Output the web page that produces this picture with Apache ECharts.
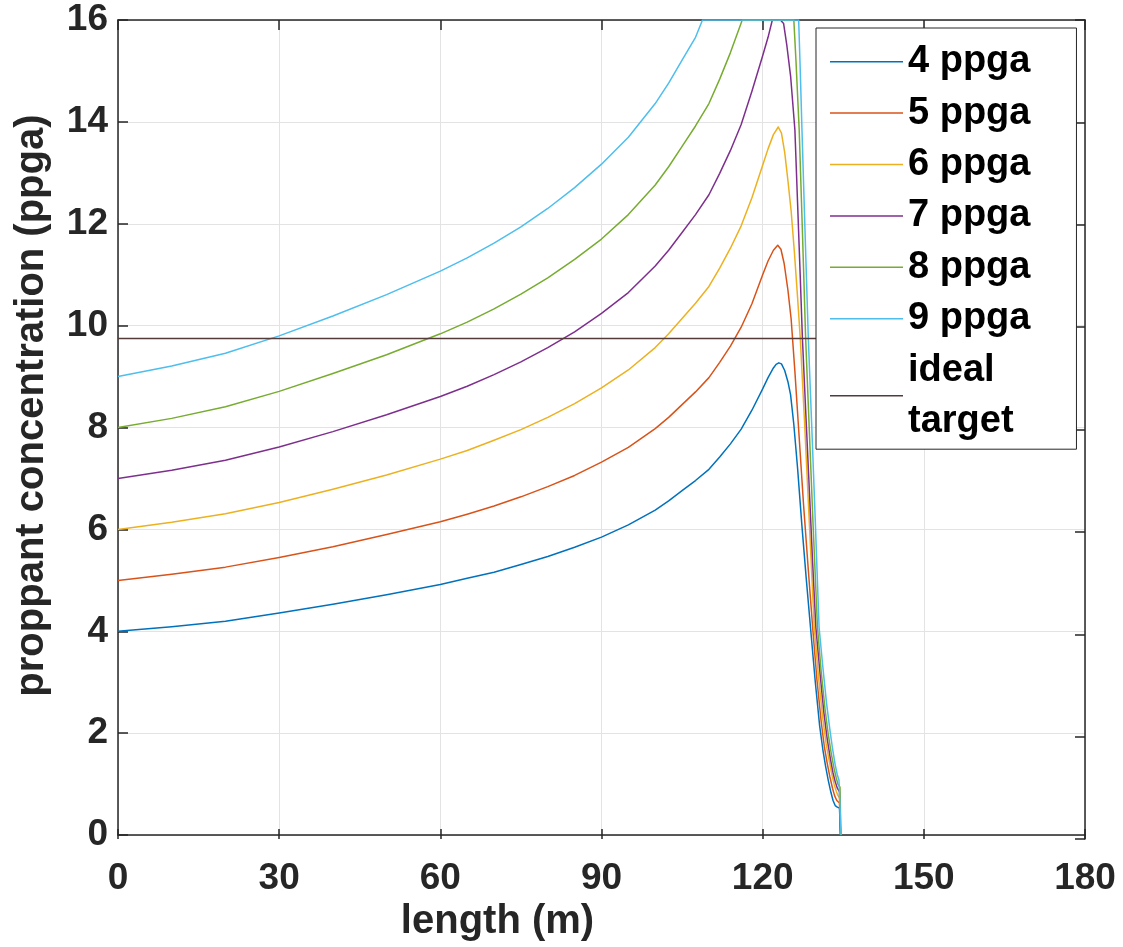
<!DOCTYPE html>
<html>
<head>
<meta charset="utf-8">
<script src="https://cdn.jsdelivr.net/npm/echarts@6/dist/echarts.min.js"></script>
<style>
html,body{margin:0;padding:0;background:#fff;}
#chart{width:1123px;height:947px;}
</style>
</head>
<body>
<div id="chart"></div>
<script>
// ---- data ----
const seriesNames = ['4 ppga','5 ppga','6 ppga','7 ppga','8 ppga','9 ppga','ideal target'];
const xTicks = [0,30,60,90,120,150,180];
const yTicks = [0,2,4,6,8,10,12,14,16];

const len4 = [0,10,20,30,40,50,60,65,70,75,80,85,90,95,100,102.5,105,107.5,110,112,114,116,118,120,121,122,122.5,123,123.5,124.1,124.7,125.2,125.8,126.5,127.3,128.1,128.9,129.8,130.6,131.2,131.7,132.2,132.7,133.1,133.5,133.9,134.3,134.5];
const conc4 = [4.00,4.09,4.20,4.36,4.53,4.72,4.92,5.04,5.16,5.31,5.47,5.65,5.85,6.09,6.38,6.56,6.76,6.96,7.18,7.42,7.68,7.97,8.34,8.76,8.98,9.17,9.24,9.27,9.25,9.12,8.90,8.64,8.06,7.20,6.08,5.05,4.08,3.00,2.15,1.68,1.36,1.08,0.84,0.68,0.58,0.55,0.53,0];

const len5 = [0,10,20,30,40,50,60,65,70,75,80,85,90,95,100,102.5,105,107.5,110,112,114,116,118,120,121,122,122.8,123.4,124.0,124.7,125.3,126.0,126.8,127.6,128.5,129.3,130.1,130.9,131.5,132.0,132.5,133.0,133.4,133.8,134.3,134.5];
const conc5 = [5.00,5.12,5.26,5.45,5.66,5.90,6.15,6.30,6.46,6.64,6.84,7.06,7.32,7.61,7.98,8.20,8.45,8.70,8.98,9.28,9.60,9.97,10.43,11.00,11.27,11.48,11.58,11.50,11.22,10.70,10.13,9.10,7.80,6.50,5.20,4.08,3.05,2.22,1.72,1.42,1.15,0.92,0.77,0.68,0.63,0];

const len6 = [0,10,20,30,40,50,60,65,70,75,80,85,90,95,100,102.5,105,107.5,110,112,114,116,118,120,121,122,122.9,123.5,124.1,124.7,125.3,125.9,126.5,127.0,127.8,128.7,129.6,130.4,131.2,131.8,132.4,132.9,133.3,133.7,134.0,134.3,134.5];
const conc6 = [6.00,6.14,6.31,6.53,6.79,7.07,7.38,7.55,7.75,7.96,8.20,8.47,8.78,9.13,9.57,9.84,10.14,10.44,10.77,11.13,11.52,11.96,12.51,13.15,13.47,13.75,13.90,13.78,13.40,12.85,12.25,11.45,10.55,9.75,8.10,6.10,4.08,3.10,2.28,1.80,1.45,1.18,1.00,0.86,0.78,0.73,0];

const len7 = [0,10,20,30,40,50,60,65,70,75,80,85,90,95,100,102.5,105,107.5,110,112,114,116,118,120,121,121.8,123.3,123.9,124.5,125.2,126.0,126.5,127.0,127.4,128.0,128.7,129.3,129.9,130.7,131.4,132.0,132.6,133.1,133.5,133.9,134.3,134.5];
const conc7 = [7.00,7.16,7.36,7.62,7.92,8.25,8.61,8.81,9.04,9.29,9.57,9.88,10.24,10.65,11.17,11.48,11.83,12.18,12.57,12.99,13.44,13.95,14.60,15.30,15.66,16,16,15.93,15.50,14.90,13.84,12.40,10.95,9.75,8.35,6.75,5.35,4.08,3.15,2.40,1.90,1.50,1.22,1.05,0.92,0.85,0];

const len8 = [0,10,20,30,40,50,60,65,70,75,80,85,90,95,100,102.5,105,107.5,110,112,114,116.2,125.8,126.2,126.8,127.4,128.0,128.7,129.4,130.2,130.9,131.6,132.2,132.8,133.3,133.7,134.0,134.4,134.55];
const conc8 = [8.00,8.18,8.41,8.71,9.06,9.43,9.84,10.07,10.33,10.62,10.94,11.30,11.70,12.18,12.76,13.12,13.52,13.92,14.36,14.84,15.36,16,16,15.20,13.84,11.85,9.75,7.90,6.05,4.08,3.20,2.48,1.98,1.58,1.30,1.12,1.00,0.94,0];

const len9 = [0,10,20,30,40,50,60,65,70,75,80,85,90,95,100,102.5,105,107.5,108.8,126.7,127.0,127.3,127.9,128.5,129.2,129.8,130.5,131.2,131.9,132.5,133.0,133.5,133.9,134.2,134.5,134.6];
const conc9 = [9.00,9.21,9.46,9.80,10.19,10.61,11.07,11.33,11.62,11.94,12.30,12.71,13.17,13.70,14.36,14.76,15.21,15.66,16,16,15.00,13.90,11.80,9.75,7.85,6.15,4.08,3.30,2.58,2.08,1.70,1.38,1.18,1.08,1.05,0];

const lenTarget = [0,130];
const concTarget = [9.75,9.75];

const colors = ['#0072BD','#D95319','#EDB120','#7E2F8E','#77AC30','#4DBEEE','#553a3a'];

// ---- build ----
function pairs(xs, ys){ return xs.map((x,i)=>[x, ys[i]]); }
const allX = [len4,len5,len6,len7,len8,len9,lenTarget];
const allY = [conc4,conc5,conc6,conc7,conc8,conc9,concTarget];

const FONT = '"Liberation Sans", Arial, Helvetica, sans-serif';
const axisCol = '#262626';

const series = seriesNames.map((n,i)=>({
  name: n,
  type: 'line',
  xAxisIndex: 0, yAxisIndex: 0,
  data: pairs(allX[i], allY[i]),
  symbol: 'none',
  showSymbol: false,
  smooth: false,
  clip: true,
  lineStyle: {color: colors[i], width: 1.5, join: 'round'},
  itemStyle: {color: colors[i]},
  emphasis: {disabled: true},
  z: 2
}));

const GL = 118, GR = 38, GT = 20, GB = 108;
const plotW = 1123 - GL - GR, plotH = 947 - GT - GB;
const tickOn = {show: true, inside: false, length: 10, lineStyle: {color: axisCol, width: 1.5}};
const lineOn = {show: true, onZero: false, lineStyle: {color: axisCol, width: 1.5}};
const lineOff = {show: false, onZero: false};
const noLabel = {show: false};
const noSplit = {show: false};

const chart = echarts.init(document.getElementById('chart'), null, {renderer:'canvas'});
chart.setOption({
  animation: false,
  backgroundColor: '#ffffff',
  color: colors,
  grid: [
    {left: GL, right: GR, top: GT, bottom: GB, containLabel: false},
    {left: GL, right: GR, top: GT, bottom: GB, containLabel: false}
  ],
  xAxis: [{
    gridIndex: 0, type: 'value', min: 0, max: 180, interval: 30, position: 'bottom',
    name: 'length (m)', nameLocation: 'middle', nameGap: 64,
    nameTextStyle: {fontFamily: FONT, fontWeight: 'bold', fontSize: 40, color: axisCol, padding: [0, 208, 0, 0]},
    axisLine: lineOn,
    axisTick: {show: false},
    axisLabel: {fontFamily: FONT, fontWeight: 'bold', fontSize: 37, color: axisCol, margin: 25,
      formatter: v => xTicks.includes(v) ? String(v) : ''},
    splitLine: {show: true, lineStyle: {color: '#e3e3e3', width: 1}}
  },{
    // ticks along the bottom edge, pointing up into the plot
    gridIndex: 0, type: 'value', min: 0, max: 180, interval: 30, position: 'top', offset: -plotH,
    axisLine: lineOff, axisTick: tickOn, axisLabel: noLabel, splitLine: noSplit
  },{
    // top edge: line + ticks pointing down into the plot
    gridIndex: 1, type: 'value', min: 0, max: 180, interval: 30, position: 'bottom', offset: -plotH,
    axisLine: lineOn, axisTick: tickOn, axisLabel: noLabel, splitLine: noSplit
  }],
  yAxis: [{
    gridIndex: 0, type: 'value', min: 0, max: 16, interval: 2, position: 'left',
    name: 'proppant concentration (ppga)', nameLocation: 'middle', nameGap: 66, nameRotate: 90,
    nameTextStyle: {fontFamily: FONT, fontWeight: 'bold', fontSize: 40, color: axisCol, padding: [0, 0, 0, 44]},
    axisLine: lineOn,
    axisTick: {show: false},
    axisLabel: {fontFamily: FONT, fontWeight: 'bold', fontSize: 37, color: axisCol, margin: 10, padding: [6, 0, 0, 0],
      formatter: v => yTicks.includes(v) ? String(v) : ''},
    splitLine: {show: true, lineStyle: {color: '#e3e3e3', width: 1}}
  },{
    // ticks along the left edge, pointing right into the plot
    gridIndex: 0, type: 'value', min: 0, max: 16, interval: 2, position: 'right', offset: -plotW,
    axisLine: lineOff, axisTick: tickOn, axisLabel: noLabel, splitLine: noSplit
  },{
    // right edge: line + ticks pointing left into the plot
    gridIndex: 1, type: 'value', min: 0, max: 16, interval: 2, position: 'left', offset: -plotW,
    axisLine: lineOn, axisTick: tickOn, axisLabel: noLabel, splitLine: noSplit
  }],
  legend: {
    show: true,
    orient: 'vertical',
    left: 816, top: 28,
    padding: [8, 46, 2, 14],
    itemGap: 0,
    itemWidth: 73,
    itemHeight: 14,
    itemTextGap: 9,
    selectedMode: false,
    backgroundColor: '#ffffff',
    borderColor: axisCol,
    borderWidth: 1,
    data: seriesNames.map(n => ({name: n, icon: 'path://M0,0 L73,0 L73,1.5 L0,1.5 Z'})),
    formatter: n => n === 'ideal target' ? 'ideal\ntarget' : n,
    textStyle: {fontFamily: FONT, fontWeight: 'bold', fontSize: 38, color: '#000', lineHeight: 51.4}
  },
  series: series
});
</script>
</body>
</html>
